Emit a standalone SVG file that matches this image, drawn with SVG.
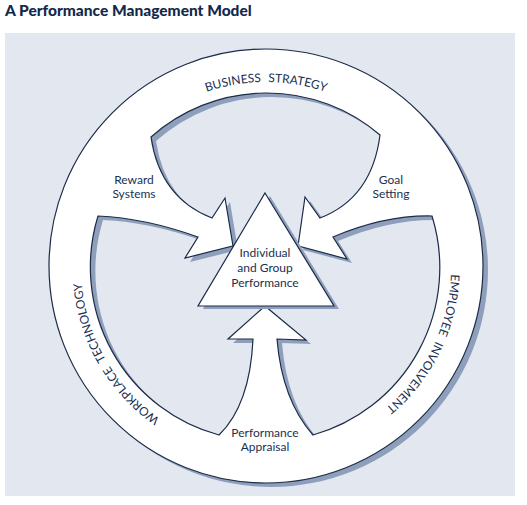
<svg xmlns="http://www.w3.org/2000/svg" width="527" height="505" viewBox="0 0 527 505">
<style>
.bg{fill:#e2e7f0}
.shadow{fill:#8e9fbc}
.white{fill:#ffffff;stroke:#1c2b47;stroke-width:1.2;stroke-linejoin:miter}
.lbl{font-family:Lato,"Open Sans","Liberation Sans",sans-serif;font-size:12px;fill:#1a3052;text-anchor:middle}
.ring{font-family:Lato,"Open Sans","Liberation Sans",sans-serif;font-size:12px;fill:#1a3052;text-anchor:middle;word-spacing:4px}
.title{font-family:Lato,"Open Sans","Liberation Sans",sans-serif;font-size:15.5px;font-weight:900;fill:#13294b}
</style>
<defs>
<path id="wheel" fill-rule="evenodd" d="M49,266 A217,217 0 1 1 483,266 A217,217 0 1 1 49,266 Z
M151,137 A174,174 0 0 1 380,135 Q372,198 320,218 L305,197 L298,246 L233,246 L225,198 L212,218 Q160,198 151,137 Z
M432,216 A174,174 0 0 1 313,435 Q282,400 277,339 L306,340 L265,306 L298,246 L347,259 L333,237 Q385,215 432,216 Z
M219,435 A174,174 0 0 1 98,216 Q145,218 198,237 L185,258 L233,246 L265,306 L228,339 L253,339 Q250,405 219,435 Z"/>
<path id="tri" d="M265,193 L334,306 L198,306 Z"/>
<path id="arcTop" d="M105.8,174.5 A185,185 0 0 1 426.2,174.5"/>
<path id="arcRight" d="M419.4,163.5 A185,185 0 0 1 278.9,451.6"/>
<path id="arcLeft" d="M266,452 A185,185 0 0 1 105.8,174.5"/>
</defs>
<text class="title" x="5" y="16">A Performance Management Model</text>
<rect class="bg" x="5" y="33" width="510" height="463"/>
<g id="wheel-ring">
<use href="#wheel" class="shadow" transform="translate(5,4)"/>
<use href="#wheel" class="white"/>
</g>
<g id="connectors">
<g id="arrow-reward"/>
<g id="arrow-goal"/>
<g id="arrow-appraisal"/>
</g>
<g id="node-center">
<use href="#tri" class="shadow" transform="translate(5,3)"/>
<use href="#tri" class="white"/>
<text class="lbl" x="265" y="257">Individual</text>
<text class="lbl" x="265" y="272">and Group</text>
<text class="lbl" x="265" y="287">Performance</text>
</g>
<g id="node-reward">
<text class="lbl" x="134" y="184">Reward</text>
<text class="lbl" x="134" y="198">Systems</text>
</g>
<g id="node-goal">
<text class="lbl" x="391" y="184">Goal</text>
<text class="lbl" x="391" y="198">Setting</text>
</g>
<g id="node-appraisal">
<text class="lbl" x="265" y="437">Performance</text>
<text class="lbl" x="265" y="451">Appraisal</text>
</g>
<g id="node-business">
<text class="ring"><textPath href="#arcTop" startOffset="50%">BUSINESS STRATEGY</textPath></text>
</g>
<g id="node-employee">
<text class="ring"><textPath href="#arcRight" startOffset="50%">EMPLOYEE INVOLVEMENT</textPath></text>
</g>
<g id="node-workplace">
<text class="ring"><textPath href="#arcLeft" startOffset="50%">WORKPLACE TECHNOLOGY</textPath></text>
</g>
</svg>
